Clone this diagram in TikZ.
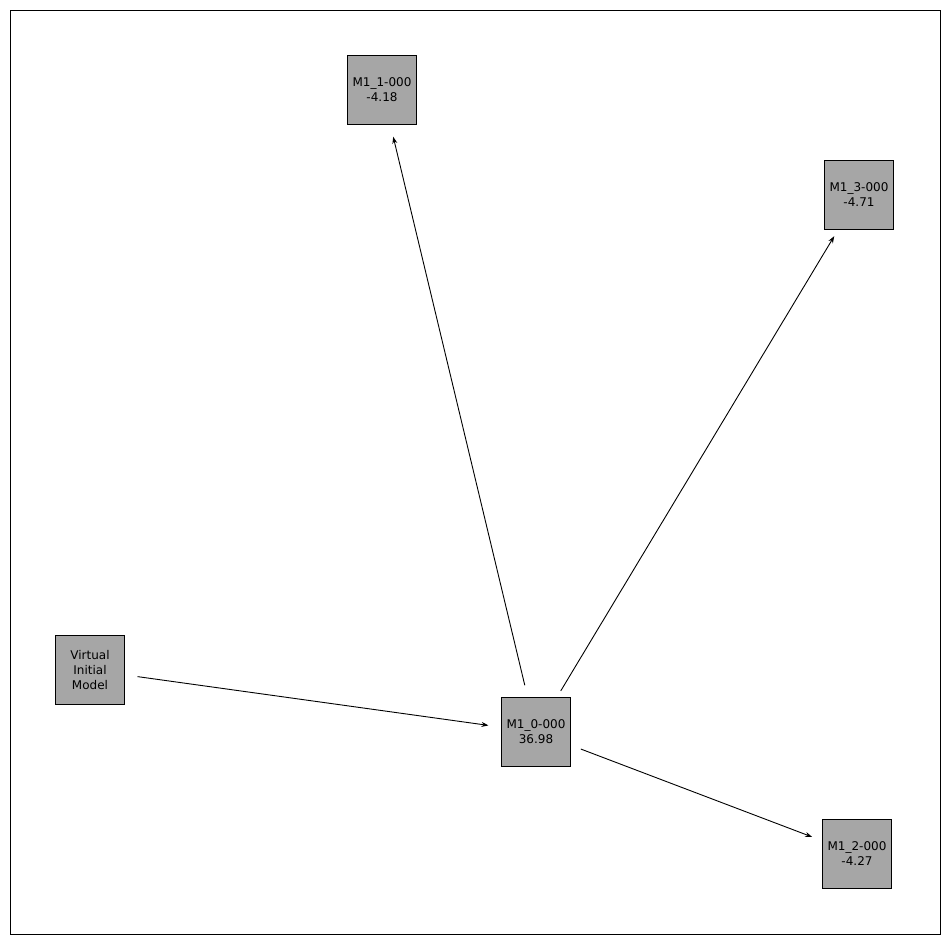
\documentclass[tikz,border=0pt]{standalone}
\usepackage{fontspec}
\setmainfont{DejaVu Sans}
\usetikzlibrary{arrows.meta}
\begin{document}
\begin{tikzpicture}[x=1pt,y=-1pt,
  box/.style={draw=black,fill={rgb,255:red,166;green,166;blue,166},minimum width=69pt,minimum height=69pt,inner sep=0pt,align=center,font=\fontsize{12}{15}\selectfont},
  edge/.style={-{Stealth[length=7pt,width=5pt]},line width=0.9pt,shorten <=48pt,shorten >=48pt}]
\useasboundingbox (0,0) rectangle (950,944);
\draw[line width=0.8pt] (10,10) rectangle (940,934);
\node[box] (v) at (90,670) {Virtual\\Initial\\Model};
\node[box] (m0) at (536,732) {M1\_0-000\\36.98};
\node[box] (m1) at (382,90) {M1\_1-000\\-4.18};
\node[box] (m3) at (859,195) {M1\_3-000\\-4.71};
\node[box] (m2) at (857,854) {M1\_2-000\\-4.27};
\draw[edge] (v.center) -- (m0.center);
\draw[edge] (m0.center) -- (m1.center);
\draw[edge] (m0.center) -- (m3.center);
\draw[edge] (m0.center) -- (m2.center);
\end{tikzpicture}
\end{document}
